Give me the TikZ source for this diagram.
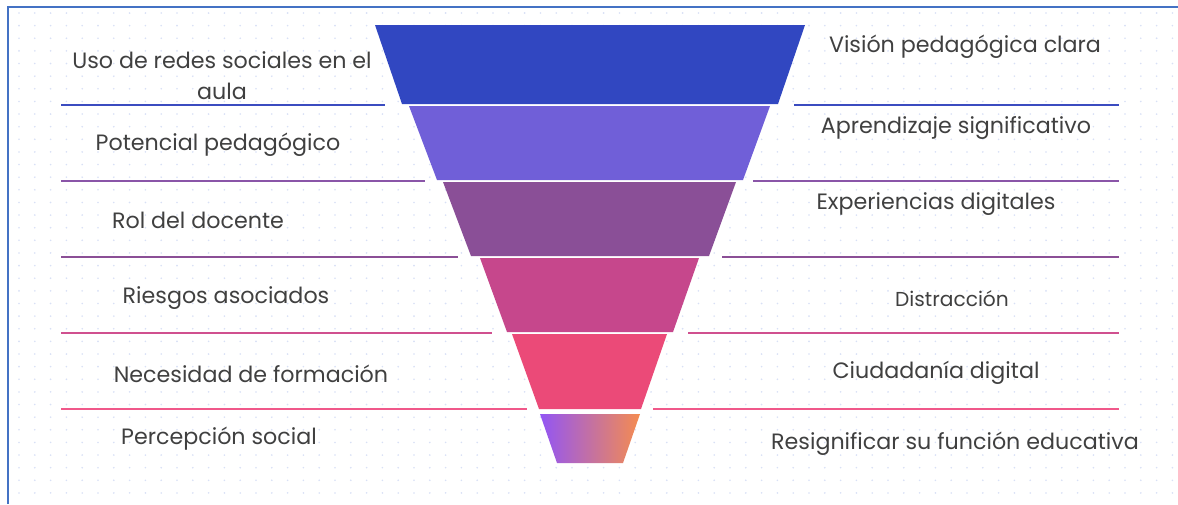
\documentclass[tikz,border=0pt]{standalone}
\usepackage{fontspec}
\setmainfont{Poppins}
\usepackage{tikz}
\usepackage{xcolor}
\usetikzlibrary{positioning}

\definecolor{frameblue}{HTML}{4472C4}
\definecolor{dotblue}{HTML}{D8E0F6}
\definecolor{txtgray}{HTML}{404040}
\definecolor{segA}{HTML}{3147C1}
\definecolor{segB}{HTML}{705FD8}
\definecolor{segC}{HTML}{8A4F97}
\definecolor{segD}{HTML}{C6478C}
\definecolor{segE}{HTML}{EB4A78}
\definecolor{segFl}{HTML}{9255F5}
\definecolor{segFr}{HTML}{F58C50}
\definecolor{lineA}{HTML}{3B4CC0}
\definecolor{lineB}{HTML}{8A55A8}
\definecolor{lineC}{HTML}{8B4F96}
\definecolor{lineD}{HTML}{D0508F}
\definecolor{lineE}{HTML}{F0588A}

\tikzset{
  lbl/.style={text=txtgray, inner sep=0pt, font=\fontsize{22.2}{31}\selectfont},
  small lbl/.style={lbl, font=\fontsize{20.2}{24}\selectfont},
  sep/.style={line width=1.5pt}
}

\begin{document}
\begin{tikzpicture}[x=1pt, y=-1pt]
                        \useasboundingbox (0, 0) rectangle (1178, 504);
                        \fill[white] (0, 0) rectangle (1178, 504);

                        % dotted background
                        \foreach \i in {0,...,74}
                        \foreach \j in {0,...,38}
                        \fill[dotblue] (19 + \i*15.8, 13 + \j*12.63) circle (0.9pt);

                        % frame, cut off at the right and bottom
                        \draw[frameblue, line width=2pt] (8, 504) -- (8, 7) -- (1178, 7);

                        % separators
                        \draw[sep, lineA] (61, 105) -- (385, 105) (794, 105) -- (1119, 105);
                        \draw[sep, lineB] (61, 181) -- (425, 181) (753, 181) -- (1119, 181);
                        \draw[sep, lineC] (61, 257) -- (458, 257) (722, 257) -- (1119, 257);
                        \draw[sep, lineD] (61, 333) -- (492, 333) (688, 333) -- (1119, 333);
                        \draw[sep, lineE] (61, 409) -- (527, 409) (653, 409) -- (1119, 409);

                        % funnel
                        \fill[segA] (375, 25) -- (805, 25) -- (778, 104) -- (402, 104) -- cycle;
                        \fill[segB] (409, 106) -- (770, 106) -- (743, 180) -- (437, 180) -- cycle;
                        \fill[segC] (443, 182) -- (736, 182) -- (709, 256) -- (471, 256) -- cycle;
                        \fill[segD] (480, 258) -- (699, 258) -- (673, 332) -- (507, 332) -- cycle;
                        \fill[segE] (512, 334) -- (667, 334) -- (641, 409) -- (539, 409) -- cycle;
                        \shade[left color=segFl, right color=segFr] (540, 414) -- (640, 414) -- (623, 463) -- (557, 463) -- cycle;

                        % left labels
                        \node[lbl, align=center] (uso) at (222, 76) {Uso de redes sociales en el\\aula};
                        \node[lbl] (pot) at (218, 145) {Potencial pedagógico};
                        \node[lbl] (rol) at (198, 220) {Rol del docente};
                        \node[lbl] (rie) at (226, 298) {Riesgos asociados};
                        \node[lbl] (nec) at (251, 374) {Necesidad de formación};
                        \node[lbl] (per) at (219, 439) {Percepción social};

                        % right labels
                        \node[lbl] (vis) at (965, 47) {Visión pedagógica clara};
                        \node[lbl] (apr) at (956, 128) {Aprendizaje significativo};
                        \node[lbl] (exp) at (936, 204) {Experiencias digitales};
                        \node[small lbl] (dis) at (952, 299) {Distracción};
                        \node[lbl] (ciu) at (936, 373) {Ciudadanía digital};
                        \node[lbl] (res) at (955, 444) {Resignificar su función educativa};
                    \end{tikzpicture}
\end{document}
